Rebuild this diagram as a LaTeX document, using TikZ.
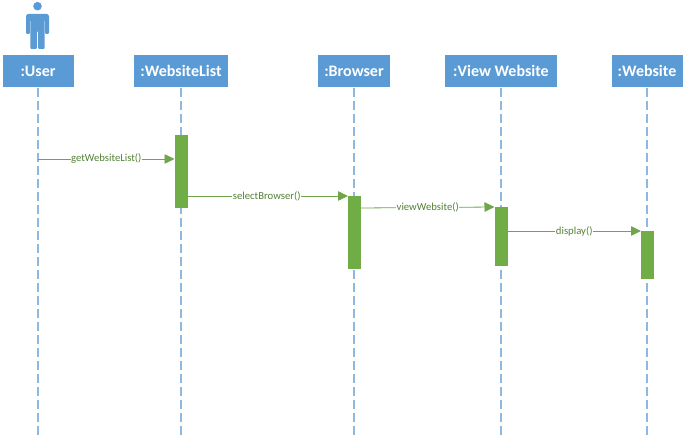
\documentclass[tikz,border=0pt]{standalone}
\usepackage{fontspec}
\setmainfont{Carlito}
\usetikzlibrary{arrows.meta}
\definecolor{hdr}{HTML}{5B9BD5}
\definecolor{lifec}{HTML}{8DB8E0}
\definecolor{act}{HTML}{70AD47}
\definecolor{msgc}{HTML}{70A54A}
\definecolor{msgt}{HTML}{548235}
\tikzset{
  x=1pt,y=-1pt,
  hdrbox/.style={fill=hdr,draw=none,inner sep=0pt,minimum height=32pt,text=white,font=\fontsize{16}{18}\selectfont\bfseries},
  lifeline/.style={draw=lifec,line width=1.3pt,dash pattern=on 9pt off 4pt},
  actbar/.style={fill=act,draw=none,inner sep=0pt,minimum width=13pt},
  msg/.style={draw=msgc,line width=0.8pt,-{Triangle[length=10pt,width=9.5pt,fill=msgc]}},
  msglabel/.style={fill=white,inner sep=0.5pt,text=msgt,font=\fontsize{10.7}{12}\selectfont},
  actor/.style={fill=hdr,draw=none},
}
\begin{document}
\begin{tikzpicture}
\useasboundingbox (0,0) rectangle (686,438);
% headers
\node[hdrbox,minimum width=71pt] (user) at (38,71) {:User};
\node[hdrbox,minimum width=94pt] (wlist) at (181,71) {:WebsiteList};
\node[hdrbox,minimum width=72pt] (browser) at (354,71) {:Browser};
\node[hdrbox,minimum width=112pt] (view) at (501,71) {:View Website};
\node[hdrbox,minimum width=71pt] (site) at (647,71) {:Website};
% lifeline ends
\coordinate (userend) at (38,438);
\coordinate (wlistend) at (181,438);
\coordinate (browserend) at (354,438);
\coordinate (viewend) at (501,438);
\coordinate (siteend) at (647,438);
\draw[lifeline] (user.south) ++(0,1) -- (userend);
\draw[lifeline] (wlist.south) ++(0,1) -- (wlistend);
\draw[lifeline] (browser.south) ++(0,1) -- (browserend);
\draw[lifeline] (view.south) ++(0,1) -- (viewend);
\draw[lifeline] (site.south) ++(0,1) -- (siteend);
% activations
\node[actbar,minimum height=73pt] (a1) at (181,171.5) {};
\node[actbar,minimum height=73pt] (a2) at (354.5,232.5) {};
\node[actbar,minimum height=59pt] (a3) at (501,236.5) {};
\node[actbar,minimum height=48pt] (a4) at (647.5,255) {};
% messages
\coordinate (m1s) at (38,159);
\coordinate (m1e) at (174.5,159);
\draw[msg] (m1s) -- node[msglabel] (l1) {getWebsiteList()} (m1e);
\coordinate (m2s) at (187.5,196);
\coordinate (m2e) at (348,196);
\draw[msg] (m2s) -- node[msglabel,xshift=-1pt] (l2) {selectBrowser()} (m2e);
\coordinate (m3s) at (361,208);
\coordinate (m3e) at (494.5,207);
\draw[msg] (m3s) -- node[msglabel] (l3) {viewWebsite()} (m3e);
\coordinate (m4s) at (507.5,231);
\coordinate (m4e) at (641,231);
\draw[msg] (m4s) -- node[msglabel] (l4) {display()} (m4e);
% actor
\fill[actor] (37.5,6.2) circle (4.3);
\fill[actor,rounded corners=1pt] (26,16) -- (27,14) -- (48,14) -- (49,16) -- (49,34) -- (45.2,34) -- (45.2,20) -- (44.6,20) -- (44.6,49) -- (38.2,49) -- (38.2,31) -- (36.8,31) -- (36.8,49) -- (30.4,49) -- (30.4,20) -- (29.8,20) -- (29.8,34) -- (26,34) -- cycle;
\end{tikzpicture}
\end{document}
